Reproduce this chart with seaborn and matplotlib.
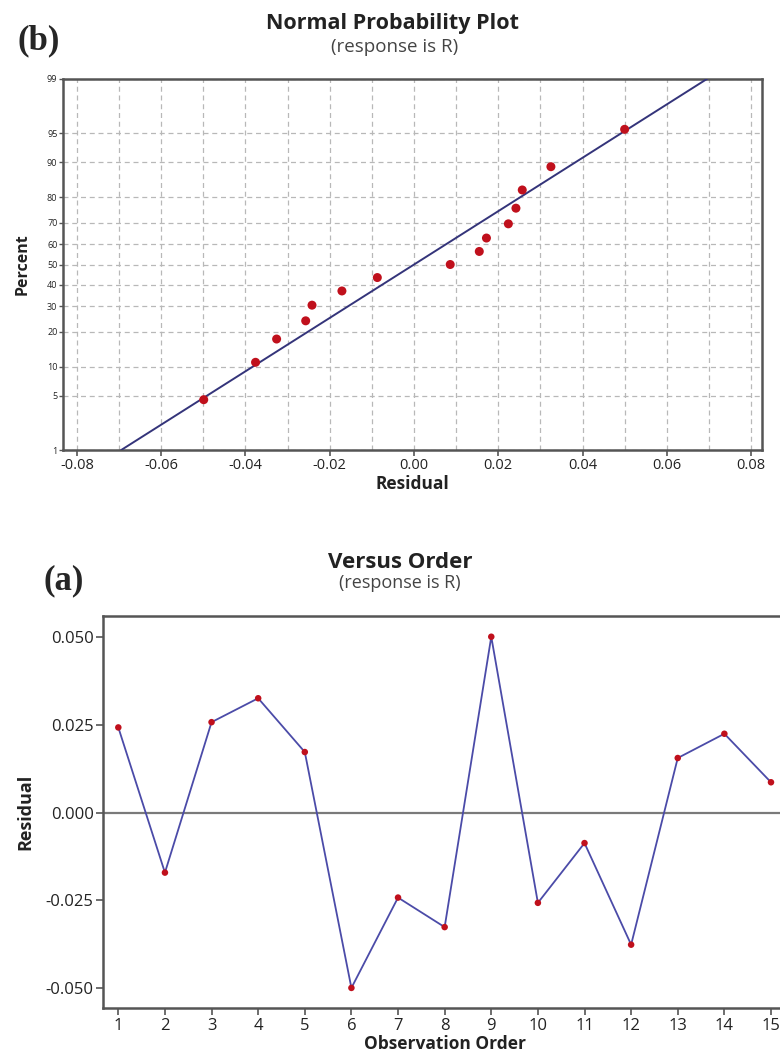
import numpy as np
import matplotlib
matplotlib.use('Agg')
import matplotlib.pyplot as plt
from matplotlib.ticker import MultipleLocator
import seaborn as sns
from statistics import NormalDist

obs_order = list(range(1, 16))
residuals = [0.0242, -0.0171, 0.0257, 0.0325, 0.0172, -0.0499, -0.0242, -0.0326,
             0.0500, -0.0257, -0.0087, -0.0376, 0.0155, 0.0224, 0.0086]

# plotting positions (percent)
percent = [4.5, 11.0, 17.5, 24.0, 30.5, 37.0, 43.5, 50.0,
           56.5, 63.0, 69.5, 76.0, 82.5, 89.0, 95.5]

pct_ticks = [1, 5, 10, 20, 30, 40, 50, 60, 70, 80, 90, 95, 99]
resid_xticks = [-0.08, -0.06, -0.04, -0.02, 0.00, 0.02, 0.04, 0.06, 0.08]
resid_yticks = [-0.050, -0.025, 0.000, 0.025, 0.050]

sns.set_style('white')
plt.rcParams['font.family'] = ['Open Sans', 'DejaVu Sans']

PT_RED = '#c0101c'
FRAME = '#555555'
GRID = '#b8b8b8'
TXT = '#222222'

# normal probability scale for the percent axis
_nd = NormalDist()
_ppf = np.vectorize(lambda v: _nd.inv_cdf(min(max(v, 1e-6), 100 - 1e-6) / 100), otypes=[float])
_cdf = np.vectorize(lambda v: _nd.cdf(v) * 100, otypes=[float])

fig = plt.figure(figsize=(7.8, 10.63), dpi=100)
W, H = 780, 1063

# ---------------- (b) normal probability plot ----------------
ax1 = fig.add_axes([63 / W, 1 - 450 / H, (762 - 63) / W, (450 - 79) / H])
ax1.set_yscale('function', functions=(_ppf, _cdf))

sorted_res = np.sort(residuals)
mu, sd = np.mean(residuals), np.std(residuals, ddof=1)
fit_pct = [pct_ticks[0], pct_ticks[-1]]
fit_x = [NormalDist(mu, sd).inv_cdf(p / 100) for p in fit_pct]

sns.lineplot(x=fit_x, y=fit_pct, ax=ax1, color='#34347a', lw=1.4, zorder=3)
sns.scatterplot(x=sorted_res, y=percent, ax=ax1, color=PT_RED, s=42,
                edgecolor='none', marker='o', zorder=4)

ax1.set_xlim(-0.0833, 0.0826)
ax1.set_ylim(pct_ticks[0], pct_ticks[-1])
ax1.set_xticks(resid_xticks)
ax1.set_xticklabels([f'{v:.2f}' for v in resid_xticks], fontsize=10.5, color=TXT)
ax1.xaxis.set_minor_locator(MultipleLocator(0.01))
ax1.set_yticks(pct_ticks)
ax1.set_yticklabels([str(v) for v in pct_ticks], fontsize=6.5, color=TXT)
ax1.yaxis.set_minor_locator(plt.NullLocator())
ax1.grid(which='both', axis='x', ls=(0, (4, 3)), color=GRID, lw=0.9)
ax1.grid(which='major', axis='y', ls=(0, (4, 3)), color=GRID, lw=0.9)
ax1.tick_params(axis='x', which='major', direction='out', length=4, width=1.2,
                color=FRAME, pad=2, bottom=True)
ax1.tick_params(axis='x', which='minor', length=0)
ax1.tick_params(axis='y', direction='out', length=3, width=1, color=FRAME, pad=1, left=True)
for sp in ax1.spines.values():
    sp.set_color(FRAME)
    sp.set_linewidth(1.8)
ax1.set_xlabel('Residual', fontsize=12.5, fontweight='bold', labelpad=1, color=TXT)
ax1.set_ylabel('Percent', fontsize=11.5, fontweight='bold', labelpad=12, color=TXT)

fig.text(392 / W, 1 - 23 / H, 'Normal Probability Plot', ha='center', va='center',
         fontsize=15.5, fontweight='bold', color=TXT)
fig.text(395 / W, 1 - 47 / H, '(response is R)', ha='center', va='center',
         fontsize=13.5, color='#444444')
fig.text(39 / W, 1 - 41 / H, '(b)', ha='center', va='center', fontsize=25,
         fontweight='bold', family='Liberation Serif')

# ---------------- (a) residuals versus order ----------------
ax2 = fig.add_axes([103.3 / W, 1 - 1008.3 / H, (786 - 103.3) / W, (1008.3 - 616) / H])
ax2.axhline(0, color='#7a7a7a', lw=1.6, zorder=1)
sns.lineplot(x=obs_order, y=residuals, ax=ax2, color='#4b4ba8', lw=1.3, zorder=2)
sns.scatterplot(x=obs_order, y=residuals, ax=ax2, color=PT_RED, s=22,
                edgecolor='none', zorder=3)

ax2.set_xlim(0.678, 15.322)
ax2.set_ylim(-0.0557, 0.0559)
ax2.set_xticks(obs_order)
ax2.set_xticklabels([str(v) for v in obs_order], fontsize=12, color=TXT)
ax2.set_yticks(resid_yticks)
ax2.set_yticklabels([f'{v:.3f}' for v in resid_yticks], fontsize=12, color=TXT)
ax2.tick_params(direction='out', length=5, width=1.2, color=FRAME, pad=2,
                bottom=True, left=True)
for sp in ax2.spines.values():
    sp.set_color(FRAME)
    sp.set_linewidth(1.8)
ax2.set_xlabel('Observation Order', fontsize=12.5, fontweight='bold', labelpad=1, color=TXT)
ax2.set_ylabel('Residual', fontsize=13, fontweight='bold', labelpad=8, color=TXT)

fig.text(400 / W, 1 - 563 / H, 'Versus Order', ha='center', va='center',
         fontsize=16, fontweight='bold', color=TXT)
fig.text(400 / W, 1 - 583 / H, '(response is R)', ha='center', va='center',
         fontsize=13, color='#444444')
fig.text(64 / W, 1 - 581 / H, '(a)', ha='center', va='center', fontsize=25,
         fontweight='bold', family='Liberation Serif')

plt.savefig('out.png', dpi=100)
